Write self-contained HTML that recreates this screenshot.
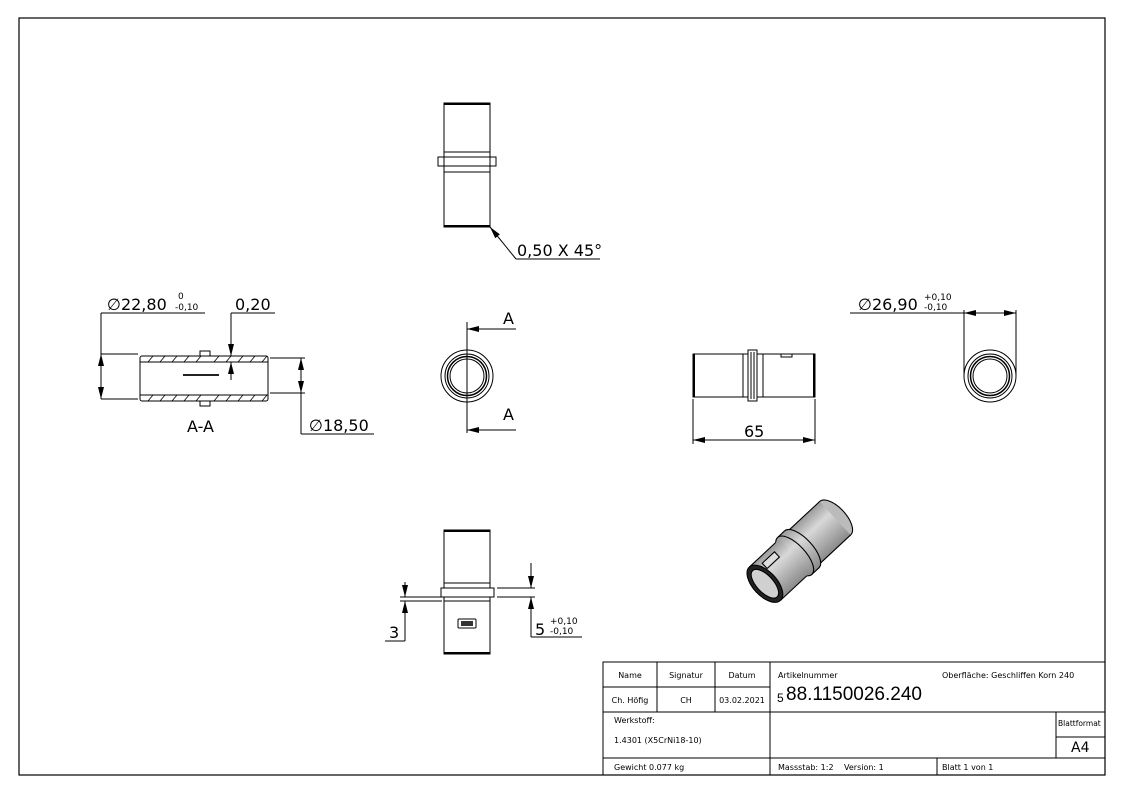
<!DOCTYPE html>
<html><head><meta charset="utf-8"><style>
body{margin:0;background:#fff;}
svg{display:block;font-family:"DejaVu Sans","Liberation Sans",sans-serif;}
</style></head><body>
<svg width="1123" height="794" viewBox="0 0 1123 794" xmlns="http://www.w3.org/2000/svg">
<defs>
<marker id="ar" markerWidth="12" markerHeight="6" refX="12" refY="3" orient="auto" markerUnits="userSpaceOnUse"><path d="M0,0 L12,3 L0,6 z" fill="#000"/></marker>
<linearGradient id="g" x1="0" y1="0" x2="0" y2="1"><stop offset="0" stop-color="#9a9a9a"/><stop offset=".35" stop-color="#d8d8d8"/><stop offset="1" stop-color="#8a8a8a"/></linearGradient>
</defs>
<rect x="0" y="0" width="1123" height="794" fill="#fff"/>
<rect x="19" y="18" width="1086" height="757" fill="none" stroke="#000" stroke-width="1.2"/>
<g fill="none" stroke="#000" stroke-width="1">
<rect x="444" y="103" width="46" height="124"/>
<rect x="438" y="157" width="58" height="9"/>
<line x1="444" y1="152" x2="490" y2="152"/><line x1="444" y1="172" x2="490" y2="172"/>
<line x1="444" y1="104" x2="490" y2="104" stroke-width="2"/><line x1="444" y1="226" x2="490" y2="226" stroke-width="2"/>
<polyline points="516,259 490,227" marker-end="url(#ar)"/><line x1="516" y1="259" x2="600" y2="259"/>
<rect x="140" y="356" width="128" height="45" rx="2"/>
<line x1="140" y1="362" x2="268" y2="362"/><line x1="140" y1="395" x2="268" y2="395"/>
<path d="M200,356 V351 H210 V356 M200,401 V406 H210 V401"/>
<line x1="101" y1="354" x2="138" y2="354"/><line x1="101" y1="399" x2="138" y2="399"/>
<line x1="101" y1="313" x2="101" y2="399"/><line x1="101" y1="313" x2="205" y2="313"/>
<line x1="101" y1="376" x2="101" y2="354" marker-end="url(#ar)"/><line x1="101" y1="376" x2="101" y2="399" marker-end="url(#ar)"/>
<line x1="231" y1="313" x2="275" y2="313"/><line x1="231" y1="313" x2="231" y2="356" marker-end="url(#ar)"/><line x1="231" y1="380" x2="231" y2="362" marker-end="url(#ar)"/>
<line x1="270" y1="358" x2="305" y2="358"/><line x1="270" y1="393" x2="305" y2="393"/>
<line x1="301" y1="358" x2="301" y2="434"/><line x1="301" y1="434" x2="374" y2="434"/>
<line x1="301" y1="375" x2="301" y2="358" marker-end="url(#ar)"/><line x1="301" y1="376" x2="301" y2="393" marker-end="url(#ar)"/>
<path d="M148,362 l5,-6 M160,362 l5,-6 M172,362 l5,-6 M184,362 l5,-6 M196,362 l5,-6 M214,362 l5,-6 M226,362 l5,-6 M238,362 l5,-6 M250,362 l5,-6 M262,362 l5,-6 M148,401 l5,-6 M160,401 l5,-6 M172,401 l5,-6 M184,401 l5,-6 M196,401 l5,-6 M214,401 l5,-6 M226,401 l5,-6 M238,401 l5,-6 M250,401 l5,-6 M262,401 l5,-6" stroke-width=".8"/>
<circle cx="467" cy="376" r="26"/><circle cx="467" cy="376" r="22"/><circle cx="467" cy="376" r="19.5" stroke-width="1.5"/><circle cx="467" cy="376" r="17"/>
<line x1="467" y1="322" x2="467" y2="433"/>
<line x1="516" y1="329" x2="467" y2="329" marker-end="url(#ar)"/><line x1="516" y1="430" x2="467" y2="430" marker-end="url(#ar)"/>
<rect x="693" y="354" width="122" height="43"/>
<line x1="694" y1="354" x2="694" y2="397" stroke-width="2"/><line x1="814" y1="354" x2="814" y2="397" stroke-width="2"/>
<line x1="743" y1="354" x2="743" y2="397"/><line x1="763" y1="354" x2="763" y2="397"/>
<rect x="748" y="350" width="9" height="51" fill="#fff"/>
<line x1="751" y1="352" x2="751" y2="399"/><line x1="754" y1="352" x2="754" y2="399"/>
<rect x="781" y="354" width="11" height="3"/>
<line x1="693" y1="399" x2="693" y2="444"/><line x1="815" y1="399" x2="815" y2="444"/>
<line x1="754" y1="440" x2="693" y2="440" marker-end="url(#ar)"/><line x1="754" y1="440" x2="815" y2="440" marker-end="url(#ar)"/>
<circle cx="990" cy="376" r="26"/><circle cx="990" cy="376" r="22"/><circle cx="990" cy="376" r="19.5" stroke-width="1.5"/><circle cx="990" cy="376" r="17"/>
<line x1="964" y1="310" x2="964" y2="376"/><line x1="1016" y1="310" x2="1016" y2="376"/>
<line x1="850" y1="313" x2="1016" y2="313"/>
<line x1="990" y1="313" x2="964" y2="313" marker-end="url(#ar)"/><line x1="990" y1="313" x2="1016" y2="313" marker-end="url(#ar)"/>
<rect x="444" y="530" width="46" height="124"/>
<line x1="444" y1="531" x2="490" y2="531" stroke-width="2"/><line x1="444" y1="653" x2="490" y2="653" stroke-width="2"/>
<line x1="444" y1="583" x2="490" y2="583"/><line x1="444" y1="601" x2="490" y2="601"/>
<rect x="441" y="588" width="53" height="9" fill="#fff"/>
<rect x="458" y="619" width="18" height="9" rx="1"/>
<line x1="400" y1="597" x2="442" y2="597"/><line x1="400" y1="601" x2="442" y2="601"/>
<line x1="405" y1="582" x2="405" y2="597" marker-end="url(#ar)"/><line x1="405" y1="614" x2="405" y2="601" marker-end="url(#ar)"/>
<line x1="405" y1="601" x2="405" y2="641"/><line x1="385" y1="641" x2="405" y2="641"/>
<line x1="497" y1="588" x2="535" y2="588"/><line x1="497" y1="597" x2="535" y2="597"/>
<line x1="531" y1="563" x2="531" y2="588" marker-end="url(#ar)"/><line x1="531" y1="617" x2="531" y2="597" marker-end="url(#ar)"/>
<line x1="531" y1="597" x2="531" y2="637"/><line x1="531" y1="637" x2="582" y2="637"/>
</g>
<rect x="461" y="621" width="12" height="5" fill="#333"/>
<rect x="183" y="374" width="36" height="2" fill="#222"/>
<g transform="translate(800,551) rotate(-43) scale(1.2)" stroke="#000" stroke-width="0.9">
<ellipse cx="40" cy="0" rx="9" ry="19" fill="#bbb"/>
<rect x="0" y="-19" width="40" height="38" fill="url(#g)" stroke="none"/>
<line x1="0" y1="-19" x2="40" y2="-19"/><line x1="0" y1="19" x2="40" y2="19"/>
<ellipse cx="2" cy="0" rx="9" ry="21" fill="url(#g)"/>
<rect x="-6" y="-21" width="8" height="42" fill="url(#g)" stroke="none"/>
<line x1="-6" y1="-21" x2="2" y2="-21"/><line x1="-6" y1="21" x2="2" y2="21"/>
<ellipse cx="-6" cy="0" rx="9" ry="21" fill="url(#g)"/>
<rect x="-40" y="-19" width="34" height="38" fill="url(#g)" stroke="none"/>
<line x1="-40" y1="-19" x2="-10" y2="-19"/><line x1="-40" y1="19" x2="-10" y2="19"/>
<rect x="-30" y="-14" width="14" height="6" fill="#ddd"/>
<ellipse cx="-40" cy="0" rx="10" ry="19" fill="#222"/>
<ellipse cx="-40" cy="0" rx="7" ry="15" fill="#d0d0d0"/>
</g>
<g font-size="16" fill="#000">
<text x="517" y="256">0,50 X 45°</text>
<text x="107" y="310">∅22,80</text>
<text x="178" y="299" font-size="9">0</text><text x="175" y="310" font-size="9">-0,10</text>
<text x="235" y="310">0,20</text>
<text x="187" y="432">A-A</text>
<text x="309" y="431">∅18,50</text>
<text x="503" y="324">A</text><text x="503" y="420">A</text>
<text x="744" y="437">65</text>
<text x="858" y="310">∅26,90</text>
<text x="924" y="300" font-size="9">+0,10</text><text x="924" y="310" font-size="9">-0,10</text>
<text x="389" y="638">3</text>
<text x="535" y="635">5</text>
<text x="550" y="624" font-size="9">+0,10</text><text x="550" y="634" font-size="9">-0,10</text>
</g>
<g fill="none" stroke="#000" stroke-width="1">
<rect x="603" y="662" width="502" height="113"/>
<line x1="603" y1="687" x2="770" y2="687"/>
<line x1="603" y1="712" x2="1105" y2="712"/>
<line x1="603" y1="758" x2="1105" y2="758"/>
<line x1="657" y1="662" x2="657" y2="712"/><line x1="715" y1="662" x2="715" y2="712"/>
<line x1="770" y1="662" x2="770" y2="775"/>
<line x1="1056" y1="712" x2="1056" y2="758"/><line x1="1056" y1="737" x2="1105" y2="737"/>
<line x1="937" y1="758" x2="937" y2="775"/>
</g>
<g font-size="8" fill="#000">
<text x="630" y="678" text-anchor="middle">Name</text>
<text x="686" y="678" text-anchor="middle">Signatur</text>
<text x="742" y="678" text-anchor="middle">Datum</text>
<text x="630" y="703" text-anchor="middle">Ch. Höfig</text>
<text x="686" y="703" text-anchor="middle">CH</text>
<text x="742" y="703" text-anchor="middle">03.02.2021</text>
<text x="778" y="678">Artikelnummer</text>
<text x="942" y="678">Oberfläche:  Geschliffen Korn 240</text>
<text x="614" y="723">Werkstoff:</text>
<text x="614" y="743">1.4301 (X5CrNi18-10)</text>
<text x="1058" y="726" font-size="7.5">Blattformat</text>
<text x="614" y="770">Gewicht 0.077 kg</text>
<text x="778" y="770">Massstab: 1:2</text>
<text x="844" y="770">Version: 1</text>
<text x="942" y="770">Blatt 1 von 1</text>
</g>
<text x="777" y="702" font-size="12" font-family="Liberation Sans,sans-serif">5</text>
<text x="786" y="700" font-size="19" font-family="Liberation Sans,sans-serif">88.1150026.240</text>
<text x="1071" y="752" font-size="14">A4</text>
</svg>
</body></html>
